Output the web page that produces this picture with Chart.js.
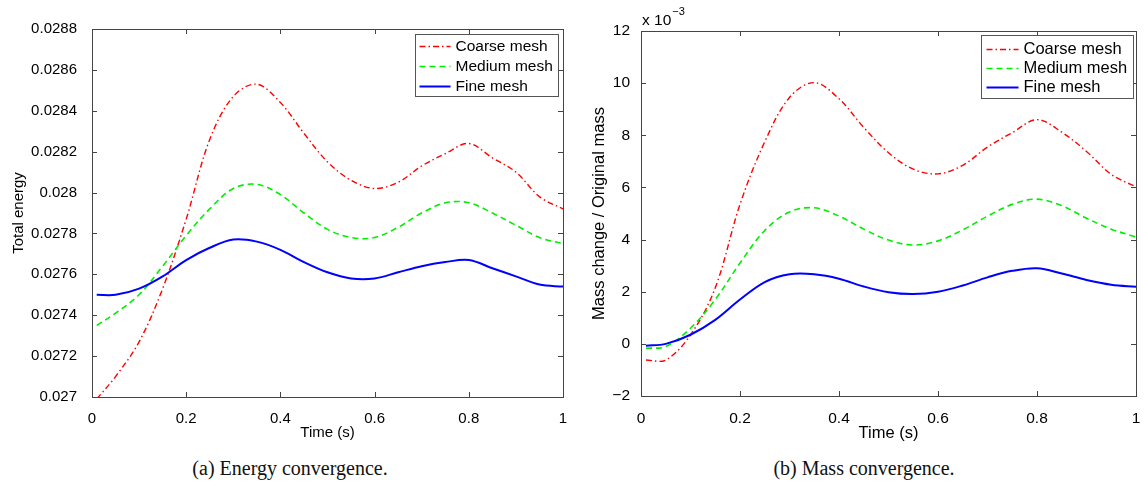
<!DOCTYPE html>
<html>
<head>
<meta charset="utf-8">
<script src="https://cdn.jsdelivr.net/npm/chart.js@4.4.1/dist/chart.umd.min.js"></script>
<style>
  html, body { margin: 0; padding: 0; background: #fff; }
  body { width: 1148px; height: 482px; position: relative; overflow: hidden; }
  .panel { position: absolute; top: 0; height: 445px; }
  .caption {
    position: absolute; top: 457px; width: 300px; text-align: center;
    font-family: 'Liberation Serif', 'Times New Roman', serif; font-size: 20px; color: #111;
  }
</style>
</head>
<body>
<div class="panel" style="left:0;width:580px"><canvas id="chart-energy"></canvas></div>
<div class="panel" style="left:580px;width:568px"><canvas id="chart-mass"></canvas></div>
<div class="caption" style="left:140px">(a) Energy convergence.</div>
<div class="caption" style="left:714px">(b) Mass convergence.</div>

<script>
// ── data ──
const times = [0.01, 0.05, 0.1, 0.15, 0.2, 0.25, 0.3, 0.35, 0.4, 0.45, 0.5,
               0.55, 0.6, 0.65, 0.7, 0.75, 0.8, 0.85, 0.9, 0.95, 1.0];

const energyCoarse = [0.02699, 0.02710, 0.02727, 0.02753, 0.02787, 0.02826, 0.02847, 0.02853, 0.02844, 0.02829, 0.02815,
                      0.02806, 0.02802, 0.02805, 0.02813, 0.02819, 0.02824, 0.02817, 0.02810, 0.02798, 0.02792];
const energyMedium = [0.02735, 0.02741, 0.02750, 0.02764, 0.02779, 0.02792, 0.02802, 0.02804, 0.02799, 0.02790, 0.02782,
                      0.02778, 0.02778, 0.02783, 0.02790, 0.02795, 0.02795, 0.02790, 0.02784, 0.02778, 0.02775];
const energyFine   = [0.02750, 0.02750, 0.02753, 0.02759, 0.02767, 0.02773, 0.02777, 0.02776, 0.02772, 0.02766, 0.02761,
                      0.02758, 0.02758, 0.02761, 0.02764, 0.02766, 0.02767, 0.02763, 0.02759, 0.02755, 0.02754];

// mass change / original mass, in units of 1e-3
const massCoarse = [-0.62, -0.62, 0.34, 2.15, 5.35, 7.75, 9.45, 10.02, 9.40, 8.30, 7.33,
                    6.70, 6.52, 6.85, 7.55, 8.10, 8.60, 8.12, 7.38, 6.50, 6.02];
const massMedium = [-0.17, -0.10, 0.60, 1.70, 3.10, 4.35, 5.06, 5.22, 4.90, 4.40, 3.98,
                    3.79, 3.95, 4.37, 4.90, 5.35, 5.55, 5.30, 4.82, 4.40, 4.10];
const massFine   = [-0.07, 0.00, 0.35, 0.92, 1.70, 2.37, 2.67, 2.67, 2.50, 2.20, 1.98,
                    1.91, 2.00, 2.24, 2.55, 2.80, 2.90, 2.70, 2.45, 2.27, 2.19];

const seriesNames = ['Coarse mesh', 'Medium mesh', 'Fine mesh'];

const timeTickLabels   = ['0', '0.2', '0.4', '0.6', '0.8', '1'];
const energyTickLabels = ['0.027', '0.0272', '0.0274', '0.0276', '0.0278', '0.028',
                          '0.0282', '0.0284', '0.0286', '0.0288'];
const massTickLabels   = ['\u22122', '0', '2', '4', '6', '8', '10', '12'];

// ── styles ──
const FONT = "'Liberation Sans', Arial, Helvetica, sans-serif";
const lineStyles = [
  { color: '#ff0000', dash: [6, 3, 1.5, 3], width: 1.4 },   // dash-dot
  { color: '#00ee00', dash: [6, 4],         width: 1.6 },   // dashed
  { color: '#0000ff', dash: [],             width: 2   },   // solid
];
const TICK = 5;

const tickValue = s => Number(s.replace('\u2212', '-'));

// box, inward ticks, legend and exponent label, MATLAB style
const matlabFrame = {
  id: 'matlabFrame',
  afterDraw(chart, args, opts) {
    const { ctx, chartArea: a, scales } = chart;
    ctx.save();
    ctx.strokeStyle = '#444';
    ctx.lineWidth = 1;
    ctx.strokeRect(Math.round(a.left) + 0.5, Math.round(a.top) + 0.5,
                   Math.round(a.right - a.left), Math.round(a.bottom - a.top));
    ctx.beginPath();
    scales.x.ticks.forEach(t => {
      const px = Math.round(scales.x.getPixelForValue(t.value)) + 0.5;
      ctx.moveTo(px, a.bottom); ctx.lineTo(px, a.bottom - TICK);
      ctx.moveTo(px, a.top);    ctx.lineTo(px, a.top + TICK);
    });
    scales.y.ticks.forEach(t => {
      const py = Math.round(scales.y.getPixelForValue(t.value)) + 0.5;
      ctx.moveTo(a.left, py);  ctx.lineTo(a.left + TICK, py);
      ctx.moveTo(a.right, py); ctx.lineTo(a.right - TICK, py);
    });
    ctx.stroke();

    // legend (datasets are stored fine-first, list them coarse-first)
    const L = opts.legend;
    const bx = Math.round(a.right - L.right - L.width) + 0.5;
    const by = Math.round(a.top + L.top) + 0.5;
    ctx.fillStyle = '#fff';
    ctx.fillRect(bx, by, L.width, L.height);
    ctx.strokeStyle = '#555';
    ctx.strokeRect(bx, by, L.width, L.height);
    ctx.font = `${L.size}px ${FONT}`;
    ctx.textBaseline = 'middle';
    chart.data.datasets.slice().reverse().forEach((ds, i) => {
      const y = by + L.first + i * L.step;
      ctx.strokeStyle = ds.borderColor;
      ctx.lineWidth = ds.borderWidth;
      ctx.setLineDash(ds.borderDash || []);
      ctx.beginPath();
      ctx.moveTo(bx + L.lineFrom, y); ctx.lineTo(bx + L.lineTo, y);
      ctx.stroke();
      ctx.setLineDash([]);
      ctx.fillStyle = '#000';
      ctx.fillText(ds.label, bx + L.textX, y);
    });

    // "x 10^-3"
    if (opts.exponent) {
      ctx.fillStyle = '#000';
      ctx.textBaseline = 'alphabetic';
      ctx.font = `15.5px ${FONT}`;
      const base = 'x 10';
      ctx.fillText(base, a.left + 1, a.top - 6);
      const w = ctx.measureText(base).width;
      ctx.font = `11px ${FONT}`;
      ctx.fillText(opts.exponent, a.left + 2 + w, a.top - 16);
    }
    ctx.restore();
  }
};

function buildChart(id, seriesList, yTickLabels, yTitle, cfg) {
  const yTicks = yTickLabels.map(tickValue);
  const xTicks = timeTickLabels.map(tickValue);
  return new Chart(document.getElementById(id), {
    type: 'line',
    data: {
      datasets: seriesList.map((vals, i) => ({
        label: seriesNames[i],
        data: times.map((t, k) => ({ x: t, y: vals[k] })),
        borderColor: lineStyles[i].color,
        borderDash: lineStyles[i].dash,
        borderWidth: lineStyles[i].width,
        pointRadius: 0,
        fill: false,
        tension: 0.35,
      })).reverse(),   // fine mesh drawn last → on top
    },
    options: {
      responsive: true, maintainAspectRatio: false, animation: false,
      layout: { padding: { top: cfg.top, right: cfg.right, left: 0, bottom: 0 } },
      plugins: {
        legend: { display: false },
        tooltip: { enabled: false },
        matlabFrame: { legend: cfg.legend, exponent: cfg.exponent },
      },
      scales: {
        x: {
          type: 'linear', min: 0, max: 1,
          grid: { display: false }, border: { display: false },
          afterBuildTicks: s => { s.ticks = xTicks.map(v => ({ value: v })); },
          afterFit: s => { s.height = cfg.xHeight; },
          ticks: { autoSkip: false, maxRotation: 0, padding: 5, color: '#000',
                   font: { family: FONT, size: cfg.tickSize },
                   callback: (v, i) => timeTickLabels[i] },
          title: { display: true, text: 'Time (s)', color: '#000',
                   font: { family: FONT, size: cfg.titleSize }, padding: { top: 0, bottom: cfg.xTitlePad } },
        },
        y: {
          type: 'linear', min: yTicks[0], max: yTicks[yTicks.length - 1],
          grid: { display: false }, border: { display: false },
          afterBuildTicks: s => { s.ticks = yTicks.map(v => ({ value: v })); },
          afterFit: s => { s.width = cfg.yWidth; },
          ticks: { autoSkip: false, padding: cfg.yTickPad, color: '#000',
                   font: { family: FONT, size: cfg.tickSize },
                   callback: (v, i) => yTickLabels[i] },
          title: { display: true, text: yTitle, color: '#000',
                   font: { family: FONT, size: cfg.titleSize }, padding: { top: cfg.yTitlePad, bottom: 0 } },
        },
      },
    },
    plugins: [matlabFrame],
  });
}

buildChart('chart-energy', [energyCoarse, energyMedium, energyFine], energyTickLabels, 'Total energy', {
  top: 29, right: 17, yWidth: 92, xHeight: 48,
  tickSize: 15, titleSize: 15, yTickPad: 7, yTitlePad: 10, xTitlePad: 3,
  legend: { right: 5, top: 5, width: 143, height: 62, size: 15.5,
            first: 12, step: 20, lineFrom: 4, lineTo: 35, textX: 40 },
});

buildChart('chart-mass', [massCoarse, massMedium, massFine], massTickLabels, 'Mass change / Original mass', {
  top: 31, right: 12, yWidth: 61, xHeight: 49,
  tickSize: 15.5, titleSize: 16.5, yTickPad: 3, yTitlePad: 10, xTitlePad: 2,
  legend: { right: 3, top: 4, width: 152, height: 63, size: 16.5,
            first: 14, step: 19, lineFrom: 5, lineTo: 37, textX: 42 },
  exponent: '\u22123',
});
</script>
</body>
</html>
